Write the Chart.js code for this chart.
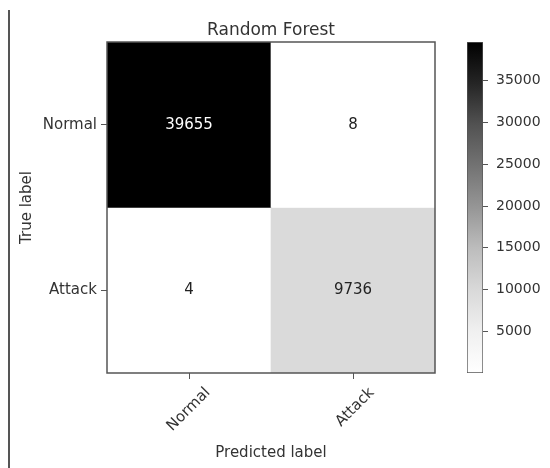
<!DOCTYPE html>
<html>
<head>
<meta charset="utf-8">
<script src="https://cdn.jsdelivr.net/npm/chart.js@4/dist/chart.umd.min.js"></script>
<style>
  body { margin: 0; background: #fff; }
  #wrap { position: relative; width: 550px; height: 468px; overflow: hidden; }
  #edge { position: absolute; left: 8px; top: 10px; height: 458px; border-left: 2px solid #555; }
  #cm { position: absolute; left: 0; top: 0; }
  #cbar { position: absolute; left: 440px; top: 0; }
</style>
</head>
<body>
<div id="wrap">
  <div id="edge"></div>
  <canvas id="cm" width="550" height="468"></canvas>
  <canvas id="cbar" width="110" height="468"></canvas>
</div>
<script>
const predictedLabels = ['Normal', 'Attack'];
const trueLabels = ['Normal', 'Attack'];
const rowNormal = [39655, 8];
const rowAttack = [4, 9736];
const matrix = [rowNormal, rowAttack];
const colorbarTicks = [5000, 10000, 15000, 20000, 25000, 30000, 35000];

const FONT = 'DejaVu Sans';
const TEXT = '#333';
const FRAME = '#555';

// matplotlib "Greys" colormap
const greysStops = ['#ffffff', '#f0f0f0', '#d9d9d9', '#bdbdbd', '#969696', '#737373', '#525252', '#252525', '#000000'];
const vMin = Math.min(...matrix.flat());
const vMax = Math.max(...matrix.flat());

function hexToRgb(h) {
    return [1, 3, 5].map(i => parseInt(h.substr(i, 2), 16));
}

function greys(t) {
    t = Math.max(0, Math.min(1, t));
    const pos = t * (greysStops.length - 1);
    const i = Math.min(Math.floor(pos), greysStops.length - 2);
    const f = pos - i;
    const a = hexToRgb(greysStops[i]);
    const b = hexToRgb(greysStops[i + 1]);
    const c = a.map((v, k) => Math.round(v + (b[k] - v) * f));
    return `rgb(${c[0]}, ${c[1]}, ${c[2]})`;
}

function norm(v) {
    return (v - vMin) / (vMax - vMin);
}

const cellText = {
    id: 'cellText',
    afterDatasetsDraw(chart) {
        const { ctx, scales: { x, y } } = chart;
        ctx.save();
        ctx.font = `15px "${FONT}"`;
        ctx.textAlign = 'center';
        ctx.textBaseline = 'middle';
        matrix.forEach((row, i) => {
            row.forEach((v, j) => {
                ctx.fillStyle = v > (vMin + vMax) / 2 ? '#ffffff' : '#222';
                ctx.fillText(String(v), x.getPixelForValue(j), y.getPixelForValue(i + 0.5));
            });
        });
        ctx.restore();
    }
};

const frame = {
    id: 'frame',
    afterDraw(chart) {
        const a = chart.chartArea;
        const ctx = chart.ctx;
        ctx.save();
        ctx.strokeStyle = FRAME;
        ctx.lineWidth = 1.5;
        ctx.strokeRect(a.left, a.top, a.right - a.left, a.bottom - a.top);
        ctx.restore();
    }
};

new Chart(document.getElementById('cm'), {
    type: 'bar',
    data: {
        labels: predictedLabels,
        datasets: trueLabels.map((label, i) => ({
            label: label,
            data: matrix[i].map(() => [i, i + 1]),
            backgroundColor: matrix[i].map(v => greys(norm(v))),
            borderWidth: 0,
            barPercentage: 1,
            categoryPercentage: 1,
            grouped: false,
        }))
    },
    options: {
        responsive: false,
        animation: false,
        layout: { padding: { left: 0, right: 115, top: 0, bottom: 0 } },
        plugins: {
            legend: { display: false },
            tooltip: { enabled: false },
            title: {
                display: true,
                text: 'Random Forest',
                fullSize: false,
                color: TEXT,
                font: { family: FONT, size: 17, weight: 'normal' },
                padding: { top: 20, bottom: 1.6 },
            },
        },
        scales: {
            x: {
                type: 'category',
                offset: true,
                grid: { offset: false, drawOnChartArea: false, drawTicks: true, tickLength: 6, color: FRAME },
                border: { display: false },
                ticks: {
                    autoSkip: false,
                    minRotation: 45,
                    maxRotation: 45,
                    labelOffset: 19,
                    padding: 5,
                    color: TEXT,
                    font: { family: FONT, size: 15 },
                },
                title: {
                    display: true,
                    text: 'Predicted label',
                    color: TEXT,
                    font: { family: FONT, size: 15 },
                    padding: { top: 0, bottom: 6 },
                },
                afterFit(scale) { scale.height = 95; },
            },
            y: {
                type: 'linear',
                min: 0,
                max: trueLabels.length,
                reverse: true,
                grid: { drawOnChartArea: false, drawTicks: true, tickLength: 6, color: FRAME },
                border: { display: false },
                afterBuildTicks(scale) {
                    scale.ticks = trueLabels.map((_, i) => ({ value: i + 0.5 }));
                },
                ticks: {
                    padding: 4,
                    color: TEXT,
                    font: { family: FONT, size: 15 },
                    callback: (value, index) => trueLabels[index],
                },
                title: {
                    display: true,
                    text: 'True label',
                    color: TEXT,
                    font: { family: FONT, size: 15 },
                    padding: { top: 18, bottom: 0 },
                },
                afterFit(scale) { scale.width = 107; },
            },
        },
    },
    plugins: [cellText, frame],
});

new Chart(document.getElementById('cbar'), {
    type: 'bar',
    data: {
        labels: [''],
        datasets: [{
            data: [[vMin, vMax]],
            backgroundColor(ctx) {
                const a = ctx.chart.chartArea;
                if (!a) return null;
                const g = ctx.chart.ctx.createLinearGradient(0, a.bottom, 0, a.top);
                greysStops.forEach((c, i) => g.addColorStop(i / (greysStops.length - 1), c));
                return g;
            },
            borderColor: FRAME,
            borderWidth: 1,
            borderSkipped: false,
            barPercentage: 1,
            categoryPercentage: 1,
        }]
    },
    options: {
        responsive: false,
        animation: false,
        layout: { padding: { left: 27, right: 0, top: 42, bottom: 95 } },
        plugins: {
            legend: { display: false },
            tooltip: { enabled: false },
        },
        scales: {
            x: { display: false },
            y: {
                position: 'right',
                min: vMin,
                max: vMax,
                grid: { drawOnChartArea: false, drawTicks: true, tickLength: 5, color: FRAME },
                border: { display: false },
                afterBuildTicks(scale) {
                    scale.ticks = colorbarTicks.map(v => ({ value: v }));
                },
                ticks: {
                    padding: 8,
                    color: TEXT,
                    font: { family: FONT, size: 14 },
                    callback: v => String(v),
                },
                afterFit(scale) { scale.width = 67; },
            },
        },
    },
});
</script>
</body>
</html>
